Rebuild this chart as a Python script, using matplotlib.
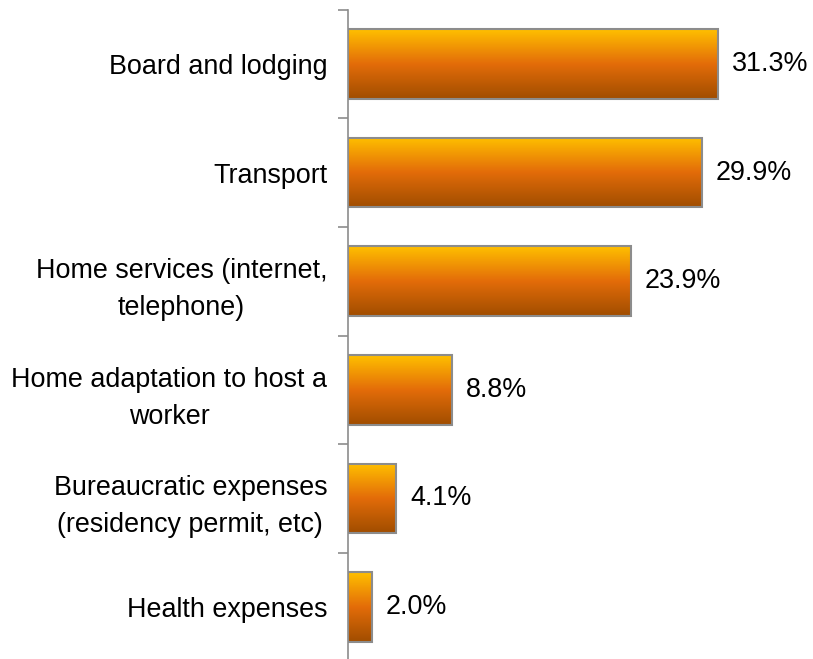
import numpy as np
import matplotlib.pyplot as plt
from matplotlib.colors import LinearSegmentedColormap

plt.rcParams['font.family'] = ['Liberation Sans', 'DejaVu Sans']

categories = ['Board and lodging', 'Transport', 'Home services (internet,\ntelephone)',
              'Home adaptation to host a\nworker', 'Bureaucratic expenses\n(residency permit, etc)',
              'Health expenses']
values = [31.3, 29.9, 23.9, 8.8, 4.1, 2.0]

grad = LinearSegmentedColormap.from_list('bar', ['#A04D00', '#E36C09', '#FFC000'])

fig = plt.figure(figsize=(8.13, 6.59), dpi=100)
ax = fig.add_axes([348 / 813, -2.3 / 659, 473 / 813, 651.6 / 659])

n = len(categories)
y = np.arange(n)[::-1]
h = 0.64
ramp = np.linspace(0, 1, 256).reshape(-1, 1)
for yi, v in zip(y, values):
    ax.imshow(ramp, cmap=grad, aspect='auto', origin='lower',
              extent=[0, v, yi - h / 2, yi + h / 2], zorder=2)
    ax.barh(yi, v, height=h, facecolor='none', edgecolor='#8c8c8c', linewidth=1.5, zorder=3)
    ax.text(v + 1.2, yi, f'{v:.1f}%', va='center', ha='left', fontsize=19.4)

ax.set_xlim(0, 40)
ax.set_ylim(-0.5, n - 0.5)
ax.set_yticks(y)
ax.set_yticklabels(categories, fontsize=19.4, multialignment='center', linespacing=1.55)
ax.set_yticks(np.arange(n + 1) - 0.5, minor=True)
ax.tick_params(axis='y', which='major', length=0, pad=15)
ax.tick_params(axis='y', which='minor', length=7, color='#8c8c8c', width=1.2)
ax.set_xticks([])
for s in ['top', 'right', 'bottom']:
    ax.spines[s].set_visible(False)
ax.spines['left'].set_color('#8c8c8c')
ax.spines['left'].set_linewidth(1.2)

fig.savefig('out.png', dpi=100)
